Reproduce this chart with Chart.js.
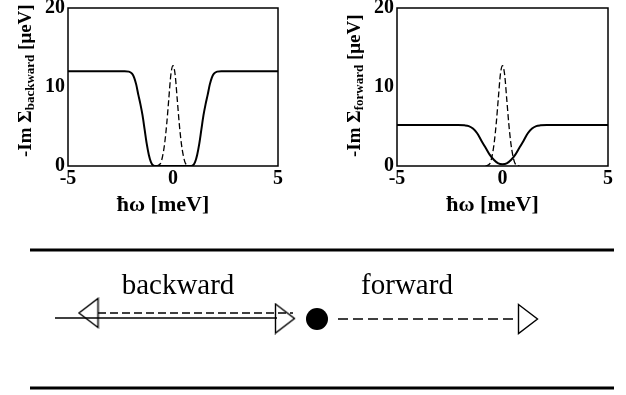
<!DOCTYPE html>
<html>
<head>
<meta charset="utf-8">
<script src="https://cdn.jsdelivr.net/npm/chart.js@4.4.1/dist/chart.umd.min.js"></script>
<style>
  html, body { margin: 0; padding: 0; background: #fff; }
  body { width: 626px; height: 395px; position: relative; overflow: hidden; }
  canvas { position: absolute; }
</style>
</head>
<body>
<canvas id="backChart" width="310" height="230" style="left:0;top:0"></canvas>
<canvas id="fwdChart" width="316" height="230" style="left:310px;top:0"></canvas>
<canvas id="sketch" width="626" height="165" style="left:0;top:230px"></canvas>
<script>
// --- panel data (hbar*omega in meV, -Im Sigma in ueV) ---
const xTickValues = [-5, 0, 5];
const yTickValues = [0, 10, 20];

const omegaBackSolid = [-5, -2.3, -2.1, -1.95, -1.85, -1.75, -1.65, -1.55, -1.45, -1.35, -1.25, -1.15, -1.05, -0.95, -0.8,
                        0.8, 0.95, 1.05, 1.15, 1.25, 1.35, 1.45, 1.55, 1.65, 1.75, 1.85, 1.95, 2.1, 2.3, 5];
const sigmaBackSolid = [12, 12, 11.95, 11.7, 11.2, 10.3, 9.0, 7.8, 6.4, 4.6, 2.8, 1.4, 0.5, 0.1, 0,
                        0, 0.1, 0.5, 1.4, 2.8, 4.6, 6.4, 7.8, 9.0, 10.3, 11.2, 11.7, 11.95, 12, 12];

const omegaFwdSolid = [-5, -2.1, -1.8, -1.6, -1.4, -1.2, -1.0, -0.8, -0.6, -0.4, -0.2, 0,
                       0.2, 0.4, 0.6, 0.8, 1.0, 1.2, 1.4, 1.6, 1.8, 2.1, 5];
const sigmaFwdSolid = [5.2, 5.2, 5.15, 5.05, 4.75, 4.15, 3.2, 2.3, 1.4, 0.75, 0.32, 0.22,
                       0.32, 0.75, 1.4, 2.3, 3.2, 4.15, 4.75, 5.05, 5.15, 5.2, 5.2];

// dashed peak, same in both panels
const omegaPeak = [-0.8, -0.6, -0.5, -0.4, -0.3, -0.2, -0.1, 0, 0.1, 0.2, 0.3, 0.4, 0.5, 0.6, 0.8];
const sigmaPeak = [0, 0.3, 1.2, 2.8, 5.3, 8.5, 11.6, 12.7, 11.6, 8.5, 5.3, 2.8, 1.2, 0.3, 0];

const xTitle = 'ħω [meV]';
const yTitleHead = '-Im Σ';
const yTitleTail = ' [μeV]';

// --- sketch data (page pixel units) ---
const ruleX = [30, 614];
const ruleY = [250, 388];
const backSolidX = [55, 277];
const backSolidY = [318, 318];
const backDashX = [98, 293];
const backDashY = [313, 313];
const fwdDashX = [338, 519];
const fwdDashY = [319, 319];
const headX = [88.5, 285, 528];
const headY = [313, 318.5, 319];
const headAngle = [180, 0, 0];
const dotX = [317];
const dotY = [319];
const labelText = ['backward', 'forward'];
const labelX = [178, 407];
const labelY = [294, 294];

const SERIF = '"Liberation Serif", "Times New Roman", serif';

function pairs(xs, ys) {
    return xs.map((x, i) => ({ x: x, y: ys[i] }));
}

// frame + axis titles (y title has a subscript)
const panelFrame = {
    id: 'panelFrame',
    afterDraw(chart, args, opts) {
        const ctx = chart.ctx;
        const a = chart.chartArea;
        ctx.save();
        ctx.strokeStyle = '#000';
        ctx.lineWidth = 1.5;
        ctx.strokeRect(a.left, a.top, a.right - a.left, a.bottom - a.top);

        ctx.fillStyle = '#000';
        ctx.textBaseline = 'alphabetic';
        ctx.font = 'bold 22px ' + SERIF;
        ctx.textAlign = 'center';
        ctx.fillText(xTitle, (a.left + a.right) / 2 - 10, a.bottom + 45);

        ctx.translate(a.left - 37, a.bottom - 9);
        ctx.rotate(-Math.PI / 2);
        ctx.textAlign = 'left';
        let x = 0;
        ctx.font = 'bold 19px ' + SERIF;
        ctx.fillText(yTitleHead, x, 0);
        x += ctx.measureText(yTitleHead).width;
        ctx.font = 'bold 13px ' + SERIF;
        ctx.fillText(opts.sub, x, 3);
        x += ctx.measureText(opts.sub).width;
        ctx.font = 'bold 19px ' + SERIF;
        ctx.fillText(yTitleTail, x, 0);
        ctx.restore();
    }
};

function makePanel(id, sub, solidX, solidY, yWidth, padRight) {
    return new Chart(document.getElementById(id), {
        type: 'line',
        data: {
            datasets: [
                {
                    data: pairs(solidX, solidY),
                    borderColor: '#000',
                    borderWidth: 2,
                    pointRadius: 0,
                    cubicInterpolationMode: 'monotone'
                },
                {
                    data: pairs(omegaPeak, sigmaPeak),
                    borderColor: '#000',
                    borderWidth: 1.3,
                    borderDash: [6, 3],
                    pointRadius: 0,
                    cubicInterpolationMode: 'monotone'
                }
            ]
        },
        options: {
            responsive: false,
            animation: false,
            layout: { autoPadding: false, padding: { top: 8, right: padRight, left: 0, bottom: 0 } },
            plugins: {
                legend: { display: false },
                tooltip: { enabled: false },
                panelFrame: { sub: sub }
            },
            scales: {
                x: {
                    type: 'linear', min: -5, max: 5,
                    grid: { display: false, drawTicks: false },
                    border: { display: false },
                    afterBuildTicks: s => { s.ticks = xTickValues.map(v => ({ value: v })); },
                    afterFit: s => { s.height = 64; s.paddingLeft = 0; s.paddingRight = 0; },
                    ticks: { color: '#000', padding: 1, maxRotation: 0, font: { family: SERIF, size: 20, weight: 'bold' } }
                },
                y: {
                    type: 'linear', min: 0, max: 20,
                    grid: { display: false, drawTicks: false },
                    border: { display: false },
                    afterBuildTicks: s => { s.ticks = yTickValues.map(v => ({ value: v })); },
                    afterFit: s => { s.width = yWidth; s.paddingTop = 0; s.paddingBottom = 0; },
                    ticks: { color: '#000', padding: 3, font: { family: SERIF, size: 20, weight: 'bold' } }
                }
            }
        },
        plugins: [panelFrame]
    });
}

makePanel('backChart', 'backward', omegaBackSolid, sigmaBackSolid, 68, 32);
makePanel('fwdChart', 'forward', omegaFwdSolid, sigmaFwdSolid, 87, 18);

// open arrowhead, pointing right
function makeHead() {
    const c = document.createElement('canvas');
    c.width = 22;
    c.height = 32;
    const g = c.getContext('2d');
    g.strokeStyle = '#000';
    g.lineWidth = 1.4;
    g.beginPath();
    g.moveTo(1.5, 1.5);
    g.lineTo(20.5, 16);
    g.lineTo(1.5, 30.5);
    g.closePath();
    g.stroke();
    return c;
}

const sketchLabels = {
    id: 'sketchLabels',
    afterDatasetsDraw(chart) {
        const ctx = chart.ctx;
        const sx = chart.scales.x, sy = chart.scales.y;
        ctx.save();
        ctx.fillStyle = '#000';
        ctx.font = '29px ' + SERIF;
        ctx.textAlign = 'center';
        ctx.textBaseline = 'alphabetic';
        labelText.forEach((t, i) => {
            ctx.fillText(t, sx.getPixelForValue(labelX[i]), sy.getPixelForValue(labelY[i]));
        });
        ctx.restore();
    }
};

const lineSet = (xs, ys, width, dash) => ({
    data: pairs(xs, ys),
    showLine: true,
    borderColor: '#000',
    borderWidth: width,
    borderDash: dash || [],
    borderCapStyle: 'butt',
    pointRadius: 0
});

const head = makeHead();

new Chart(document.getElementById('sketch'), {
    type: 'scatter',
    data: {
        datasets: [
            ...ruleY.map(y => lineSet(ruleX, ruleX.map(() => y), 3)),
            lineSet(backSolidX, backSolidY, 1.3),
            lineSet(backDashX, backDashY, 1.3, [8, 4]),
            lineSet(fwdDashX, fwdDashY, 1.3, [10, 5]),
            {
                data: pairs(headX, headY),
                pointStyle: head,
                pointRadius: 10,
                rotation: headAngle,
                showLine: false
            },
            {
                data: pairs(dotX, dotY),
                pointStyle: 'circle',
                pointRadius: 11,
                backgroundColor: '#000',
                borderColor: '#000',
                borderWidth: 0,
                showLine: false
            }
        ]
    },
    options: {
        responsive: false,
        animation: false,
        layout: { autoPadding: false, padding: 0 },
        plugins: { legend: { display: false }, tooltip: { enabled: false } },
        scales: {
            x: { type: 'linear', min: 0, max: 626, display: false },
            y: { type: 'linear', min: 230, max: 395, reverse: true, display: false }
        }
    },
    plugins: [sketchLabels]
});
</script>
</body>
</html>
